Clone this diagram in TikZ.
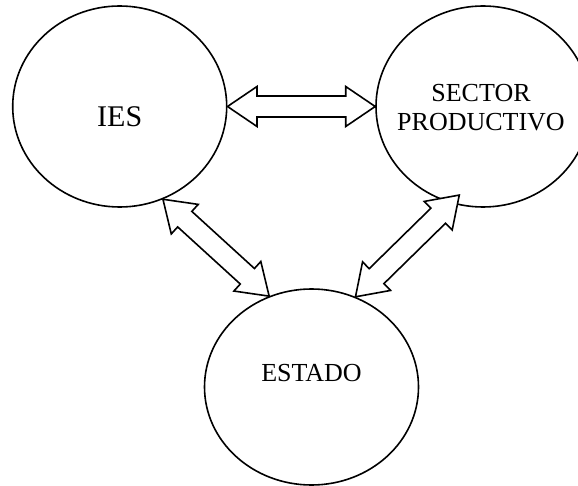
\documentclass[tikz,border=0pt]{standalone}
\usepackage{fontspec}
\setmainfont{Liberation Serif}
\usetikzlibrary{shapes.geometric,calc}

% flecha doble de bloque entre dos puntos
\newcommand{\dobleflecha}[2]{%
  \coordinate (ha) at ($(#1)!29.5pt!(#2)$);
  \coordinate (hb) at ($(#2)!29.5pt!(#1)$);
  \draw[flecha] (#1) -- ($(ha)!20pt!90:(#2)$) -- ($(ha)!10.5pt!90:(#2)$)
    -- ($(hb)!10.5pt!-90:(#1)$) -- ($(hb)!20pt!-90:(#1)$) -- (#2)
    -- ($(hb)!20pt!90:(#1)$) -- ($(hb)!10.5pt!90:(#1)$)
    -- ($(ha)!10.5pt!-90:(#2)$) -- ($(ha)!20pt!-90:(#2)$) -- cycle;
}

\begin{document}
\begin{tikzpicture}[x=1pt,y=-1pt,
    actor/.style={draw,ellipse,line width=1.6pt,minimum width=214pt,minimum height=201pt,inner sep=0pt},
    flecha/.style={draw,fill=white,line width=1.6pt}]
  \useasboundingbox (0,0) rectangle (578,486);

  % Actores
  \node[actor] (ies) at (119.7,106.5) {};
  \node[actor] (sector) at (483,106.5) {};
  \node[actor,minimum height=196pt] (estado) at (311.5,387) {};

  % Textos
  \node[font=\fontsize{30}{30}\selectfont] (iestxt) at ($(ies)+(0,10.5)$) {IES};
  \node[align=center,font=\fontsize{26}{29.5}\selectfont] (sectortxt) at ($(sector)+(-2,1)$) {SECTOR\\PRODUCTIVO};
  \node[font=\fontsize{26}{26}\selectfont] (estadotxt) at ($(estado)+(0,-14)$) {ESTADO};

  % Relaciones
  \coordinate (sp) at ($(sector.-105)!10pt!(sector.center)$);
  \dobleflecha{ies.east}{sector.west}
  \dobleflecha{ies.-65}{estado.115}
  \dobleflecha{sp}{estado.64}

\end{tikzpicture}
\end{document}
